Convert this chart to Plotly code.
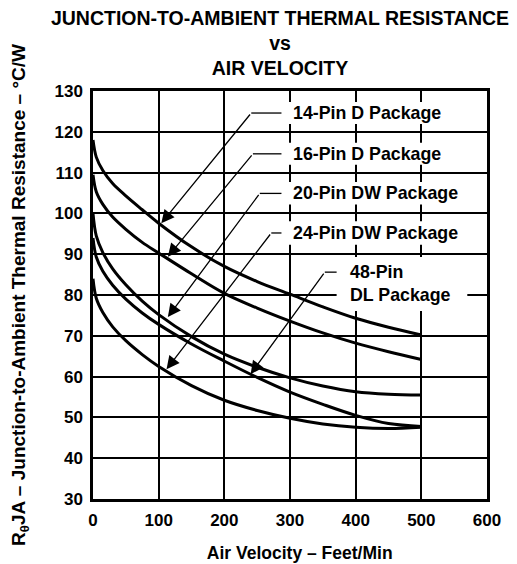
import plotly.graph_objects as go

# ---- data ----
air_velocity = [0, 5, 15, 30, 50, 75, 100, 150, 200, 250, 300, 350, 400, 450, 500]
pin14_d = [118, 113.8, 110.5, 107.3, 104.3, 100.9, 97.6, 91.8, 87, 83.3, 80.2, 77.1, 74.3, 72.1, 70.2]
pin16_d = [109.5, 105.3, 102.2, 99.1, 96.1, 92.9, 90.3, 85.2, 80.4, 76.8, 73.6, 70.7, 68.2, 66.1, 64.2]
pin20_dw = [100, 94.5, 90.4, 86.4, 82.5, 78.5, 75.2, 69.8, 65.5, 62.3, 59.7, 57.7, 56.3, 55.7, 55.5]
pin48_dl = [94, 89.3, 85.8, 82.4, 79, 75.6, 72.8, 68, 63.8, 59.8, 56.2, 53.2, 50.5, 48.5, 47.8]
pin24_dw = [84, 79.2, 75.7, 72.2, 68.8, 65.4, 62.5, 57.8, 54.2, 51.7, 49.8, 48.4, 47.6, 47.3, 47.6]

series = [
    ("14-Pin D Package", pin14_d),
    ("16-Pin D Package", pin16_d),
    ("20-Pin DW Package", pin20_dw),
    ("48-Pin DL Package", pin48_dl),
    ("24-Pin DW Package", pin24_dw),
]

y_ticks = [30, 40, 50, 60, 70, 80, 90, 100, 110, 120, 130]
x_ticks = [0, 100, 200, 300, 400, 500, 600]

# label text, text anchor (x, y), elbow (x, y), arrow tip (x, y), horizontal leader end x,
# white box (x0, x1, y0, y1)
labels = [
    ("14-Pin D Package", (302, 124.6), (241, 124.6), (104, 97.6), 287, (290, 540, 121.9, 127.3)),
    ("16-Pin D Package", (302, 114.6), (243.5, 114.6), (114, 89.4), 287, (290, 540, 111.9, 117.3)),
    ("20-Pin DW Package", (302, 104.9), (254, 104.9), (114, 74.6), 287, (290, 562, 102.2, 107.7)),
    ("24-Pin DW Package", (302, 95.2), (271.5, 95.2), (112, 61.8), 287, (290, 562, 92.3, 98.1)),
    ("48-Pin<br>DL Package", (389, 82.8), (353, 85.6), (240, 60.6), 371, (371, 570, 76.1, 89.3)),
]

FONT = "Liberation Sans, Arial, Helvetica, sans-serif"

fig = go.Figure()
for name, vals in series:
    fig.add_trace(go.Scatter(
        x=air_velocity, y=vals, mode="lines", name=name,
        line=dict(color="black", width=3, shape="spline", smoothing=1.0),
        showlegend=False,
    ))

shapes = []
annotations = []
for text, (tx, ty), (ex, ey), (px, py), hx, (bx0, bx1, by0, by1) in labels:
    shapes.append(dict(type="rect", xref="x", yref="y", x0=bx0, x1=bx1, y0=by0, y1=by1,
                       fillcolor="white", line=dict(width=0), layer="between"))
    shapes.append(dict(type="line", xref="x", yref="y", x0=ex, y0=ey, x1=hx, y1=ey,
                       line=dict(color="black", width=1.3), layer="above"))
    annotations.append(dict(x=px, y=py, ax=ex, ay=ey, xref="x", yref="y", axref="x", ayref="y",
                            text="", showarrow=True, arrowhead=2, arrowsize=2,
                            arrowwidth=1.3, arrowcolor="black", standoff=0))
    annotations.append(dict(x=tx, y=ty, xref="x", yref="y", text=text, showarrow=False,
                            xanchor="left", yanchor="middle", align="left",
                            font=dict(family=FONT, size=17.8, color="black", weight="bold")))

# The page body adds an 8px offset, so the figure is 8px smaller and margins shifted.
fig.update_layout(
    width=509, height=556,
    margin=dict(l=85, r=30, t=83, b=65, autoexpand=False),
    paper_bgcolor="white", plot_bgcolor="white",
    font=dict(family=FONT, color="black", weight="bold"),
    title=dict(
        text="JUNCTION-TO-AMBIENT THERMAL RESISTANCE<br>vs<br>AIR VELOCITY",
        font=dict(family=FONT, size=19.5, color="black", weight="bold"),
        x=272 / 509, xanchor="center", xref="container",
        y=1 - 16.5 / 556, yanchor="top", yref="container",
    ),
    shapes=shapes,
    annotations=annotations,
)

fig.update_xaxes(
    range=[0, 600], tickvals=x_ticks, ticktext=[str(v) for v in x_ticks],
    showgrid=True, gridcolor="black", gridwidth=1.5,
    showline=True, linecolor="black", linewidth=2.5, mirror=True,
    ticks="", ticklabelstandoff=4, zeroline=False, automargin=False,
    tickfont=dict(family=FONT, size=17, color="black", weight="bold"),
    title=dict(text="&nbsp;&nbsp;&nbsp;&nbsp;Air Velocity – Feet/Min", standoff=18,
               font=dict(family=FONT, size=17.5, color="black", weight="bold")),
)
fig.update_yaxes(
    range=[30, 130], tickvals=y_ticks, ticktext=[str(v) for v in y_ticks],
    showgrid=True, gridcolor="black", gridwidth=1.5,
    showline=True, linecolor="black", linewidth=2.5, mirror=True,
    ticks="", ticklabelstandoff=4, zeroline=False, automargin=False,
    tickfont=dict(family=FONT, size=17, color="black", weight="bold"),
    title=dict(text="R<sub>θ</sub>JA – Junction-to-Ambient Thermal Resistance – °C/W", standoff=28,
               font=dict(family=FONT, size=19, color="black", weight="bold")),
)

fig.write_html("out.html")
